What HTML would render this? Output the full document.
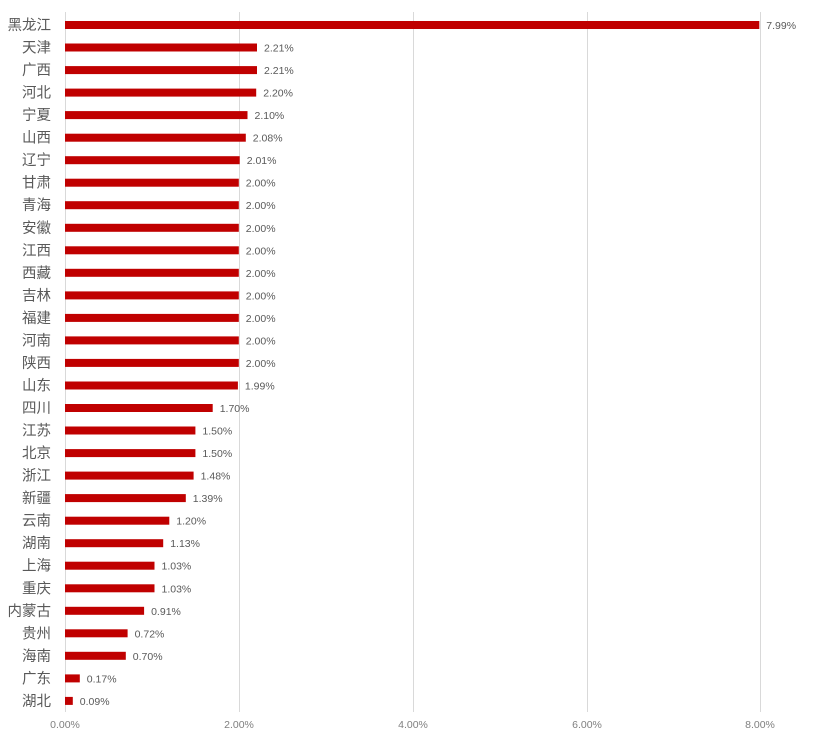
<!DOCTYPE html><html><head><meta charset="utf-8"><style>body{margin:0;background:#fff}svg{display:block}.l{font-size:14.5px;fill:#595959;text-anchor:end}.v{font-size:10.5px;fill:#595959}</style></head><body>
<svg width="831" height="739" xmlns="http://www.w3.org/2000/svg" font-family="Liberation Sans, Noto Sans CJK SC, sans-serif">
<g stroke="#d9d9d9" stroke-width="1">
<line x1="65.5" y1="12" x2="65.5" y2="712"/><line x1="239.5" y1="12" x2="239.5" y2="712"/><line x1="413.5" y1="12" x2="413.5" y2="712"/><line x1="587.5" y1="12" x2="587.5" y2="712"/><line x1="760.5" y1="12" x2="760.5" y2="712"/>
</g>
<g font-size="10.5" fill="#7f7f7f" text-anchor="middle">
<text x="65" y="728">0.00%</text><text x="239" y="728">2.00%</text><text x="413" y="728">4.00%</text><text x="587" y="728">6.00%</text><text x="760" y="728">8.00%</text>
</g>
<g fill="#c00000">
<rect x="65" y="21" width="694.3" height="8"/>
<rect x="65" y="43.5" width="192" height="8"/>
<rect x="65" y="66.1" width="192" height="8"/>
<rect x="65" y="88.6" width="191.2" height="8"/>
<rect x="65" y="111.1" width="182.5" height="8"/>
<rect x="65" y="133.7" width="180.8" height="8"/>
<rect x="65" y="156.2" width="174.7" height="8"/>
<rect x="65" y="178.7" width="173.8" height="8"/>
<rect x="65" y="201.2" width="173.8" height="8"/>
<rect x="65" y="223.8" width="173.8" height="8"/>
<rect x="65" y="246.3" width="173.8" height="8"/>
<rect x="65" y="268.8" width="173.8" height="8"/>
<rect x="65" y="291.4" width="173.8" height="8"/>
<rect x="65" y="313.9" width="173.8" height="8"/>
<rect x="65" y="336.4" width="173.8" height="8"/>
<rect x="65" y="358.9" width="173.8" height="8"/>
<rect x="65" y="381.5" width="172.9" height="8"/>
<rect x="65" y="404" width="147.7" height="8"/>
<rect x="65" y="426.5" width="130.4" height="8"/>
<rect x="65" y="449.1" width="130.4" height="8"/>
<rect x="65" y="471.6" width="128.6" height="8"/>
<rect x="65" y="494.1" width="120.8" height="8"/>
<rect x="65" y="516.7" width="104.3" height="8"/>
<rect x="65" y="539.2" width="98.2" height="8"/>
<rect x="65" y="561.7" width="89.5" height="8"/>
<rect x="65" y="584.3" width="89.5" height="8"/>
<rect x="65" y="606.8" width="79.1" height="8"/>
<rect x="65" y="629.3" width="62.6" height="8"/>
<rect x="65" y="651.8" width="60.8" height="8"/>
<rect x="65" y="674.4" width="14.8" height="8"/>
<rect x="65" y="696.9" width="7.8" height="8"/>
</g>
<g>
<text class="l" x="51" y="30">黑龙江</text>
<text class="l" x="51" y="52.5">天津</text>
<text class="l" x="51" y="75.1">广西</text>
<text class="l" x="51" y="97.6">河北</text>
<text class="l" x="51" y="120.1">宁夏</text>
<text class="l" x="51" y="142.7">山西</text>
<text class="l" x="51" y="165.2">辽宁</text>
<text class="l" x="51" y="187.7">甘肃</text>
<text class="l" x="51" y="210.2">青海</text>
<text class="l" x="51" y="232.8">安徽</text>
<text class="l" x="51" y="255.3">江西</text>
<text class="l" x="51" y="277.8">西藏</text>
<text class="l" x="51" y="300.4">吉林</text>
<text class="l" x="51" y="322.9">福建</text>
<text class="l" x="51" y="345.4">河南</text>
<text class="l" x="51" y="367.9">陕西</text>
<text class="l" x="51" y="390.5">山东</text>
<text class="l" x="51" y="413">四川</text>
<text class="l" x="51" y="435.5">江苏</text>
<text class="l" x="51" y="458.1">北京</text>
<text class="l" x="51" y="480.6">浙江</text>
<text class="l" x="51" y="503.1">新疆</text>
<text class="l" x="51" y="525.7">云南</text>
<text class="l" x="51" y="548.2">湖南</text>
<text class="l" x="51" y="570.7">上海</text>
<text class="l" x="51" y="593.3">重庆</text>
<text class="l" x="51" y="615.8">内蒙古</text>
<text class="l" x="51" y="638.3">贵州</text>
<text class="l" x="51" y="660.8">海南</text>
<text class="l" x="51" y="683.4">广东</text>
<text class="l" x="51" y="705.9">湖北</text>
</g>
<g>
<text class="v" x="766.3" y="29">7.99%</text>
<text class="v" x="264" y="51.5">2.21%</text>
<text class="v" x="264" y="74.1">2.21%</text>
<text class="v" x="263.2" y="96.6">2.20%</text>
<text class="v" x="254.5" y="119.1">2.10%</text>
<text class="v" x="252.8" y="141.7">2.08%</text>
<text class="v" x="246.7" y="164.2">2.01%</text>
<text class="v" x="245.8" y="186.7">2.00%</text>
<text class="v" x="245.8" y="209.2">2.00%</text>
<text class="v" x="245.8" y="231.8">2.00%</text>
<text class="v" x="245.8" y="254.3">2.00%</text>
<text class="v" x="245.8" y="276.8">2.00%</text>
<text class="v" x="245.8" y="299.4">2.00%</text>
<text class="v" x="245.8" y="321.9">2.00%</text>
<text class="v" x="245.8" y="344.4">2.00%</text>
<text class="v" x="245.8" y="366.9">2.00%</text>
<text class="v" x="244.9" y="389.5">1.99%</text>
<text class="v" x="219.7" y="412">1.70%</text>
<text class="v" x="202.4" y="434.5">1.50%</text>
<text class="v" x="202.4" y="457.1">1.50%</text>
<text class="v" x="200.6" y="479.6">1.48%</text>
<text class="v" x="192.8" y="502.1">1.39%</text>
<text class="v" x="176.3" y="524.7">1.20%</text>
<text class="v" x="170.2" y="547.2">1.13%</text>
<text class="v" x="161.5" y="569.7">1.03%</text>
<text class="v" x="161.5" y="592.3">1.03%</text>
<text class="v" x="151.1" y="614.8">0.91%</text>
<text class="v" x="134.6" y="637.3">0.72%</text>
<text class="v" x="132.8" y="659.8">0.70%</text>
<text class="v" x="86.8" y="682.4">0.17%</text>
<text class="v" x="79.8" y="704.9">0.09%</text>
</g>
</svg></body></html>
